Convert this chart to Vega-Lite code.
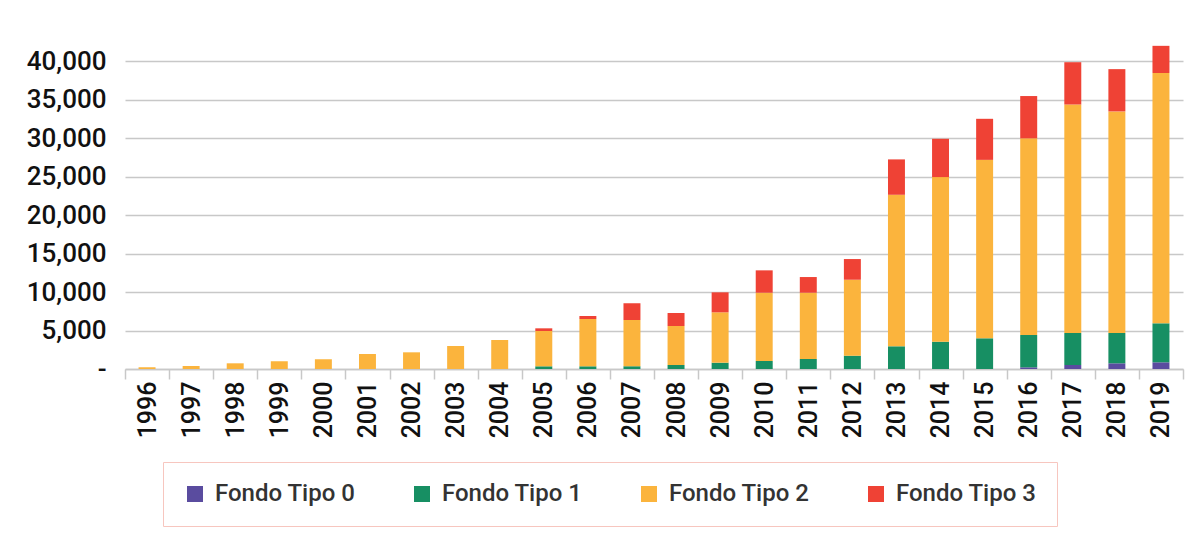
{
  "$schema": "https://vega.github.io/schema/vega-lite/v6.json",
  "autosize": {"type": "none"},
  "width": 1058,
  "height": 346,
  "padding": {"left": 125, "top": 23, "right": 11, "bottom": 177},
  "background": "white",
  "config": {
    "font": "Roboto",
    "view": {"stroke": null}
  },
  "data": {
    "values": [
      {"year": "1996", "fondo": "Fondo Tipo 2", "value": 220},
      {"year": "1997", "fondo": "Fondo Tipo 2", "value": 400},
      {"year": "1998", "fondo": "Fondo Tipo 2", "value": 740},
      {"year": "1999", "fondo": "Fondo Tipo 2", "value": 1000},
      {"year": "2000", "fondo": "Fondo Tipo 2", "value": 1260},
      {"year": "2001", "fondo": "Fondo Tipo 2", "value": 1950},
      {"year": "2002", "fondo": "Fondo Tipo 2", "value": 2170},
      {"year": "2003", "fondo": "Fondo Tipo 2", "value": 2990},
      {"year": "2004", "fondo": "Fondo Tipo 2", "value": 3770},
      {"year": "2005", "fondo": "Fondo Tipo 1", "value": 350},
      {"year": "2005", "fondo": "Fondo Tipo 2", "value": 4590},
      {"year": "2005", "fondo": "Fondo Tipo 3", "value": 350},
      {"year": "2006", "fondo": "Fondo Tipo 1", "value": 350},
      {"year": "2006", "fondo": "Fondo Tipo 2", "value": 6150},
      {"year": "2006", "fondo": "Fondo Tipo 3", "value": 390},
      {"year": "2007", "fondo": "Fondo Tipo 1", "value": 350},
      {"year": "2007", "fondo": "Fondo Tipo 2", "value": 6020},
      {"year": "2007", "fondo": "Fondo Tipo 3", "value": 2170},
      {"year": "2008", "fondo": "Fondo Tipo 1", "value": 520},
      {"year": "2008", "fondo": "Fondo Tipo 2", "value": 5070},
      {"year": "2008", "fondo": "Fondo Tipo 3", "value": 1690},
      {"year": "2009", "fondo": "Fondo Tipo 1", "value": 820},
      {"year": "2009", "fondo": "Fondo Tipo 2", "value": 6550},
      {"year": "2009", "fondo": "Fondo Tipo 3", "value": 2600},
      {"year": "2010", "fondo": "Fondo Tipo 1", "value": 1040},
      {"year": "2010", "fondo": "Fondo Tipo 2", "value": 8880},
      {"year": "2010", "fondo": "Fondo Tipo 3", "value": 2910},
      {"year": "2011", "fondo": "Fondo Tipo 1", "value": 1300},
      {"year": "2011", "fondo": "Fondo Tipo 2", "value": 8620},
      {"year": "2011", "fondo": "Fondo Tipo 3", "value": 2040},
      {"year": "2012", "fondo": "Fondo Tipo 1", "value": 1730},
      {"year": "2012", "fondo": "Fondo Tipo 2", "value": 9880},
      {"year": "2012", "fondo": "Fondo Tipo 3", "value": 2690},
      {"year": "2013", "fondo": "Fondo Tipo 1", "value": 2950},
      {"year": "2013", "fondo": "Fondo Tipo 2", "value": 19710},
      {"year": "2013", "fondo": "Fondo Tipo 3", "value": 4600},
      {"year": "2014", "fondo": "Fondo Tipo 1", "value": 3550},
      {"year": "2014", "fondo": "Fondo Tipo 2", "value": 21410},
      {"year": "2014", "fondo": "Fondo Tipo 3", "value": 4980},
      {"year": "2015", "fondo": "Fondo Tipo 1", "value": 3990},
      {"year": "2015", "fondo": "Fondo Tipo 2", "value": 23210},
      {"year": "2015", "fondo": "Fondo Tipo 3", "value": 5340},
      {"year": "2016", "fondo": "Fondo Tipo 0", "value": 220},
      {"year": "2016", "fondo": "Fondo Tipo 1", "value": 4200},
      {"year": "2016", "fondo": "Fondo Tipo 2", "value": 25580},
      {"year": "2016", "fondo": "Fondo Tipo 3", "value": 5500},
      {"year": "2017", "fondo": "Fondo Tipo 0", "value": 520},
      {"year": "2017", "fondo": "Fondo Tipo 1", "value": 4160},
      {"year": "2017", "fondo": "Fondo Tipo 2", "value": 29720},
      {"year": "2017", "fondo": "Fondo Tipo 3", "value": 5500},
      {"year": "2018", "fondo": "Fondo Tipo 0", "value": 740},
      {"year": "2018", "fondo": "Fondo Tipo 1", "value": 3940},
      {"year": "2018", "fondo": "Fondo Tipo 2", "value": 28820},
      {"year": "2018", "fondo": "Fondo Tipo 3", "value": 5500},
      {"year": "2019", "fondo": "Fondo Tipo 0", "value": 870},
      {"year": "2019", "fondo": "Fondo Tipo 1", "value": 5070},
      {"year": "2019", "fondo": "Fondo Tipo 2", "value": 32560},
      {"year": "2019", "fondo": "Fondo Tipo 3", "value": 3530}
    ]
  },
  "mark": {"type": "bar", "width": {"band": 0.385}},
  "encoding": {
    "x": {
      "field": "year",
      "type": "ordinal",
      "scale": {"paddingInner": 0, "paddingOuter": 0},
      "axis": {
        "title": null,
        "labelAngle": -90,
        "labelFontSize": 25,
        "labelFontWeight": 500,
        "labelColor": "#111111",
        "labelPadding": 2,
        "tickBand": "extent",
        "tickSize": 10,
        "tickColor": "#c8c8c8",
        "tickWidth": 1.5,
        "domainColor": "#c8c8c8",
        "domainWidth": 1.5
      }
    },
    "y": {
      "field": "value",
      "type": "quantitative",
      "aggregate": "sum",
      "stack": "zero",
      "scale": {"domain": [0, 45000], "nice": false},
      "axis": {
        "title": null,
        "values": [0, 5000, 10000, 15000, 20000, 25000, 30000, 35000, 40000],
        "labelExpr": "datum.value === 0 ? '-' : format(datum.value, ',')",
        "labelFontSize": 26,
        "labelFontWeight": 500,
        "labelColor": "#111111",
        "labelPadding": 19,
        "ticks": false,
        "domain": false,
        "grid": true,
        "gridColor": "#c8c8c8",
        "gridWidth": 1.5
      }
    },
    "color": {
      "field": "fondo",
      "type": "nominal",
      "scale": {
        "domain": ["Fondo Tipo 0", "Fondo Tipo 1", "Fondo Tipo 2", "Fondo Tipo 3"],
        "range": ["#5a4c9f", "#178f63", "#fbb43d", "#ef4235"]
      },
      "legend": {
        "title": null,
        "orient": "none",
        "legendX": 38,
        "legendY": 439,
        "direction": "horizontal",
        "columns": 4,
        "symbolType": "square",
        "symbolSize": 256,
        "symbolStrokeWidth": 0,
        "labelFontSize": 24,
        "labelFontWeight": 500,
        "labelColor": "#333333",
        "labelOffset": 8,
        "labelLimit": 300,
        "columnPadding": 54,
        "padding": 20,
        "strokeColor": "#f7c6bf"
      }
    },
    "order": {"field": "fondo", "sort": "ascending"}
  }
}
